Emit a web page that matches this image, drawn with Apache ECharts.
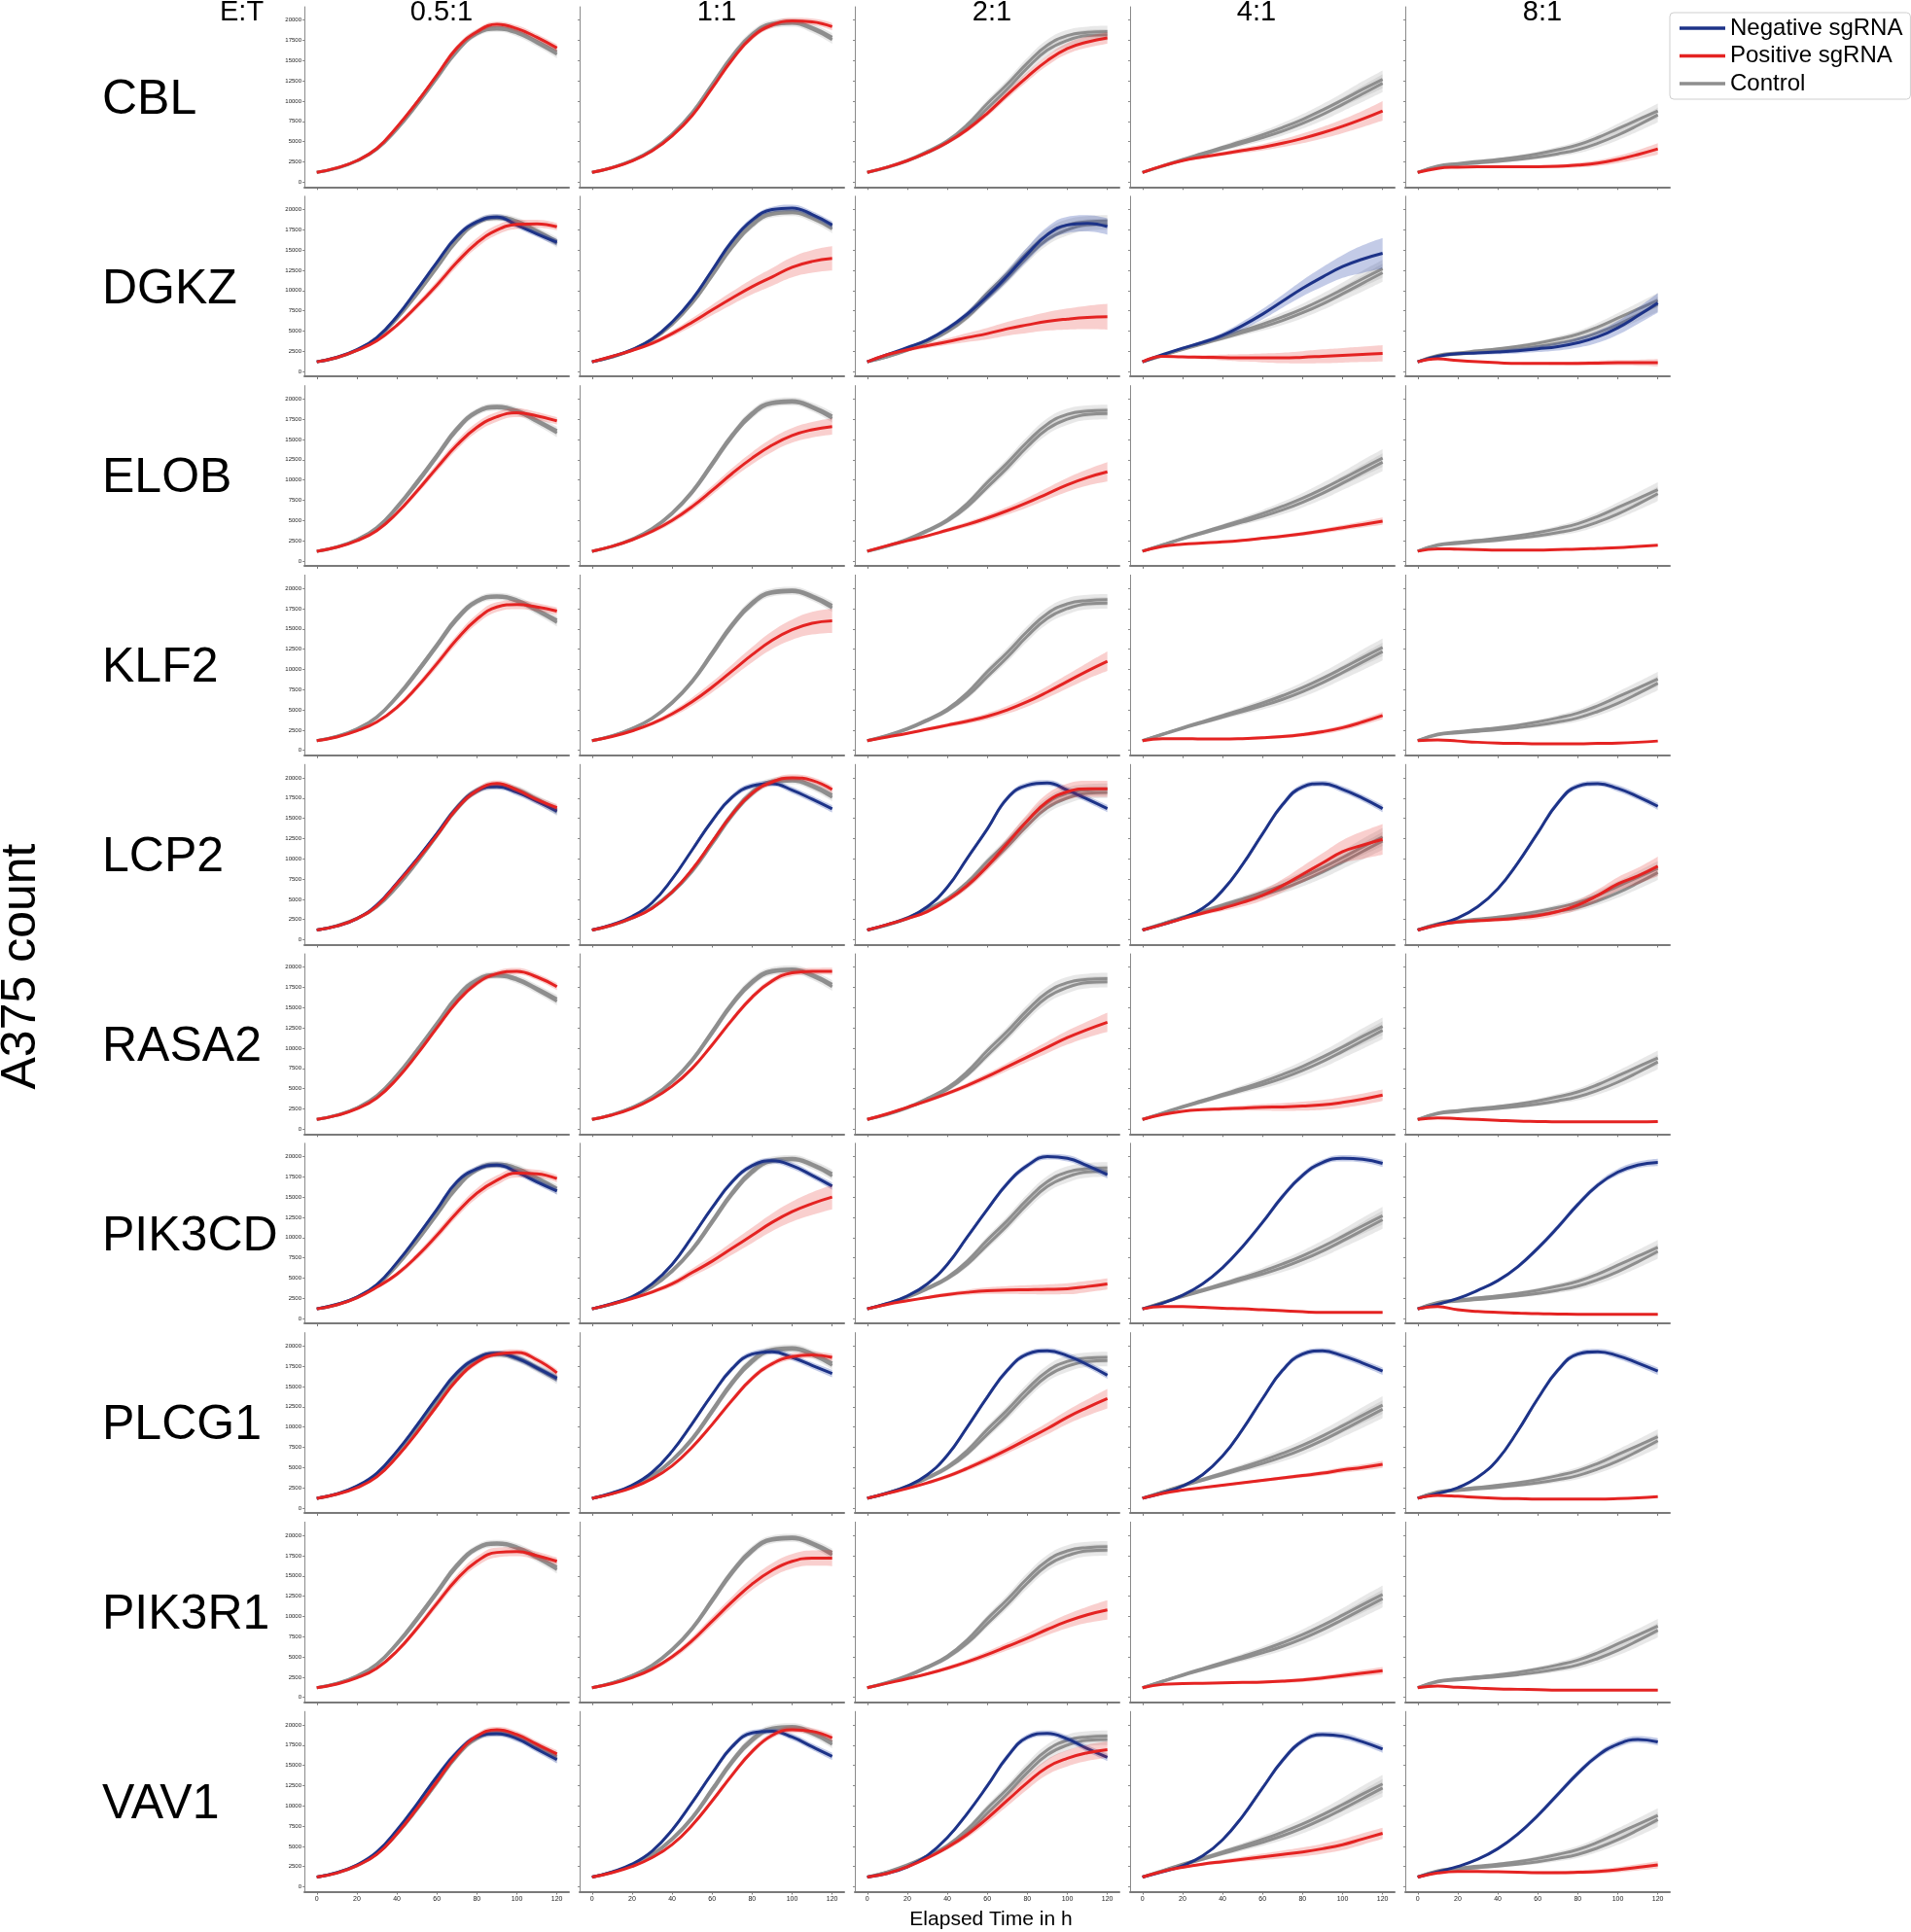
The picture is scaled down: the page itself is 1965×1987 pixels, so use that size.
<!DOCTYPE html>
<html><head><meta charset="utf-8">
<script src="https://cdn.jsdelivr.net/npm/echarts@6/dist/echarts.min.js"></script>
<style>html,body{margin:0;padding:0;background:#fff}#c{width:1965px;height:1987px}</style>
</head><body><div id="c"></div><script>
// ---------- data ----------
const hours = [0,10,20,30,40,50,60,70,80,90,100,110,120];
const ratios = ['0.5:1','1:1','2:1','4:1','8:1'];
const genes = ['CBL','DGKZ','ELOB','KLF2','LCP2','RASA2','PIK3CD','PLCG1','PIK3R1','VAV1'];
const yTicks = [0,2500,5000,7500,10000,12500,15000,17500,20000];
const xTicks = [0,20,40,60,80,100,120];

// control (two control guides, same in every row of a column)
const ctrlA = [
 [1200,1750,2650,4150,6700,9800,13100,16400,18500,19100,18600,17400,16100],
 [1200,1800,2700,4000,5950,8600,12100,15600,18300,19600,19800,19100,17900],
 [1200,1850,2700,3800,5100,7100,9700,12100,14700,16900,18100,18500,18600],
 [1200,2000,2800,3550,4300,5050,5850,6750,7750,8900,10150,11450,12700],
 [1200,2000,2300,2550,2800,3100,3500,4000,4600,5500,6600,7700,8800]
];
const ctrlB = [
 [1200,1700,2600,4050,6500,9500,12800,16100,18300,18900,18400,17200,15800],
 [1200,1780,2650,3900,5800,8400,11800,15300,18000,19400,19600,18900,17600],
 [1200,1800,2600,3650,4900,6700,9100,11500,14100,16300,17500,18100,18200],
 [1200,1950,2700,3400,4100,4800,5500,6300,7250,8350,9600,10900,12200],
 [1200,1900,2150,2350,2550,2800,3100,3500,4000,4800,5800,7000,8300]
];

// positive sgRNA (red)
const pos_CBL = [
 [1200,1760,2650,4150,6800,9850,13200,16560,18560,19480,18960,17880,16560],
 [1200,1780,2600,3850,5700,8200,11600,15100,17900,19400,19900,19800,19200],
 [1200,1850,2650,3650,4900,6500,8500,10800,13000,15000,16500,17300,17800],
 [1200,2000,2650,3100,3500,3900,4300,4800,5400,6100,6900,7800,8800],
 [1200,1700,1850,1900,1900,1900,1900,1950,2100,2350,2800,3400,4100]
];
const pos_DGKZ = [
 [1200,1720,2600,3800,5700,8080,10680,13480,15880,17480,18160,18240,17880],
 [1200,1880,2600,3480,4680,6080,7600,9080,10480,11680,12880,13600,13960],
 [1200,2080,2680,3200,3680,4200,4680,5280,5760,6200,6480,6680,6760],
 [1200,1880,1800,1760,1720,1680,1680,1680,1760,1880,2000,2120,2240],
 [1200,1560,1360,1200,1080,1000,1000,1000,1000,1040,1080,1080,1080]
];
const pos_ELOB = [
 [1200,1700,2500,3750,5900,8600,11500,14300,16500,17800,18300,17900,17300],
 [1200,1800,2600,3650,5000,6700,8700,10800,12700,14300,15500,16200,16600],
 [1200,1900,2500,3100,3800,4500,5300,6200,7200,8300,9400,10300,11000],
 [1200,1800,2050,2200,2350,2550,2800,3050,3350,3700,4100,4500,4900],
 [1200,1500,1450,1400,1350,1350,1350,1400,1450,1550,1650,1800,1950]
];
const pos_KLF2 = [
 [1200,1650,2400,3500,5300,7800,10700,13700,16200,17700,18000,17700,17200],
 [1200,1700,2400,3300,4500,6000,7800,9800,11800,13600,14900,15700,16000],
 [1200,1650,2100,2600,3100,3600,4200,5000,6000,7200,8500,9800,11000],
 [1200,1450,1450,1400,1400,1450,1550,1700,1950,2300,2800,3500,4300],
 [1200,1300,1150,1000,900,850,800,800,800,850,900,1000,1150]
];
const pos_LCP2 = [
 [1200,1700,2600,4200,6900,9800,12900,16200,18400,19300,18500,17300,16300],
 [1200,1800,2680,3880,5880,8680,12080,15480,18080,19480,20000,19680,18560],
 [1200,1880,2600,3480,4880,6680,9080,11880,14680,17080,18280,18640,18640],
 [1200,1880,2600,3280,3880,4600,5480,6680,8080,9480,10880,11680,12400],
 [1200,1800,2200,2360,2480,2680,2960,3480,4280,5480,6880,7880,9080]
];
const pos_RASA2 = [
 [1200,1700,2500,3850,6200,9200,12500,15700,18000,19200,19500,18800,17600],
 [1200,1750,2550,3700,5300,7500,10400,13500,16300,18300,19300,19500,19500],
 [1200,1900,2700,3500,4400,5400,6500,7700,8900,10100,11300,12300,13200],
 [1200,1800,2200,2400,2500,2600,2700,2750,2850,3000,3300,3700,4200],
 [1200,1400,1300,1200,1100,1000,950,900,900,900,900,900,950]
];
const pos_PIK3CD = [
 [1200,1700,2560,3880,5480,7680,10280,13080,15480,17080,17960,17880,17280],
 [1200,1800,2480,3280,4280,5680,7080,8680,10280,11880,13200,14200,15000],
 [1200,1760,2200,2600,2960,3240,3440,3520,3560,3600,3680,3960,4280],
 [1200,1480,1480,1400,1280,1200,1080,960,840,760,760,760,760],
 [1200,1480,1080,880,760,680,600,560,520,520,520,520,520]
];
const pos_PLCG1 = [
 [1200,1700,2500,3850,6300,9300,12600,15800,18000,19000,19200,18300,16700],
 [1200,1750,2500,3600,5200,7500,10300,13300,16000,17800,18700,18900,18600],
 [1200,1800,2400,3100,3900,4900,6000,7200,8500,9800,11200,12400,13500],
 [1200,1800,2200,2500,2800,3100,3400,3700,4000,4300,4700,5000,5400],
 [1200,1550,1450,1300,1200,1150,1100,1100,1100,1100,1150,1250,1400]
];
const pos_PIK3R1 = [
 [1200,1650,2400,3600,5700,8500,11600,14600,16800,17900,18000,17500,16800],
 [1200,1700,2450,3500,5000,7000,9400,11800,14000,15700,16800,17200,17200],
 [1200,1750,2300,2900,3600,4400,5300,6300,7300,8400,9400,10200,10800],
 [1200,1600,1700,1750,1800,1850,1900,2000,2150,2400,2700,3000,3300],
 [1200,1400,1250,1150,1050,1000,950,900,900,900,900,900,900]
];
const pos_VAV1 = [
 [1200,1700,2600,4000,6550,9650,13000,16300,18600,19400,18800,17600,16400],
 [1200,1750,2500,3600,5200,7600,10600,13800,16700,18700,19400,19200,18400],
 [1200,1660,2460,3540,4860,6460,8460,10660,12860,14780,15860,16540,16940],
 [1200,1900,2400,2800,3100,3400,3700,4000,4300,4700,5200,5900,6600],
 [1200,1700,1900,1900,1850,1800,1750,1750,1800,1900,2100,2400,2700]
];

// negative sgRNA (blue)
const neg_DGKZ = [
 [1200,1760,2700,4200,6800,10080,13480,16680,18480,19080,18080,17000,15960],
 [1200,1850,2700,4000,6100,8900,12500,16100,18700,20000,20200,19400,18100],
 [1200,2100,2960,3900,5300,7100,9300,11800,14500,16900,18100,18300,17900],
 [1200,2080,2880,3600,4480,5680,7080,8680,10280,11680,12960,13880,14600],
 [1200,1880,2200,2280,2400,2560,2800,3080,3560,4280,5400,6880,8480]
];
const neg_LCP2 = [
 [1200,1700,2600,4300,7000,9950,13100,16300,18400,18900,18200,17100,15900],
 [1200,1880,2880,4560,7480,11080,14680,17600,19000,19280,18480,17360,16160],
 [1200,1880,2680,4080,6480,10080,13680,17480,19080,19360,18480,17360,16200],
 [1200,1880,2680,3880,6080,9280,13080,16680,18880,19280,18560,17480,16200],
 [1200,1880,2680,4080,6280,9480,13200,16880,18960,19280,18680,17680,16480]
];
const neg_PIK3CD = [
 [1200,1750,2650,4200,6900,10080,13480,16880,18480,18960,18080,16880,15760],
 [1200,1850,2680,4280,6680,10080,13680,16880,18880,19480,18880,17680,16360],
 [1200,1880,2800,4280,6680,10080,13480,16680,18880,20000,19800,18880,17760],
 [1200,1880,2880,4280,6280,8880,11880,15080,17680,19280,19800,19680,19160],
 [1200,1760,2480,3480,4680,6400,8680,11280,14080,16480,18080,18960,19280]
];
const neg_PLCG1 = [
 [1200,1750,2700,4300,7000,10200,13600,16700,18500,19100,18500,17300,16000],
 [1200,1850,2800,4400,7000,10400,14000,17200,19000,19300,18600,17600,16600],
 [1200,1850,2700,4100,6500,10000,13700,17000,19000,19400,18800,17700,16400],
 [1200,1850,2700,4100,6400,9700,13500,17000,19000,19400,18800,17900,16900],
 [1200,1800,2500,3800,6000,9500,13500,17000,19000,19300,18800,17900,16900]
];
const neg_VAV1 = [
 [1200,1750,2700,4300,7000,10200,13600,16600,18500,18900,18300,17000,15700],
 [1200,1850,2800,4400,7000,10400,14000,17300,19000,19200,18500,17300,16100],
 [1200,1660,2460,3860,6060,9060,12460,16060,18460,18940,18260,17060,15980],
 [1200,1850,2600,3800,5800,8700,12200,15600,18000,18800,18600,17900,17000],
 [1200,1850,2500,3400,4700,6500,8800,11400,14000,16200,17600,18200,17900]
];

// band half-widths (read from the shaded areas)
const sdS1 = [50,60,80,120,180,250,300,350,350,350,400,400,450];
const sdS2 = [50,80,120,200,300,400,500,550,600,600,550,500,450];
const sdW1 = [50,80,150,250,350,450,550,650,750,850,900,950,1000];
const sdW2 = [50,80,150,250,350,500,650,800,950,1100,1250,1400,1500];
const sdG3 = [50,80,120,200,300,400,550,700,850,950,1000,1000,1000];
const sdR3 = [50,100,200,300,400,550,700,850,1000,1150,1300,1450,1600];
const sdA1 = [50,80,120,180,250,320,400,480,600,720,850,1000,1200];
const sdA2 = [50,80,150,250,350,500,650,800,1000,1200,1400,1700,1900];
const sdM  = [50,80,120,180,250,320,400,480,560,620,680,700,700];
const sdL  = [50,60,80,100,120,150,180,210,250,290,330,380,450];
const sdT  = [50,60,60,60,60,60,60,60,60,60,70,80,90];
const sdE  = [50,60,80,100,120,150,180,220,280,350,450,550,700];
const sdCtrl = [
 [50,60,80,120,180,250,300,350,350,350,400,450,500],
 [50,60,80,120,180,250,300,350,400,400,400,450,500],
 [50,80,120,180,250,350,450,550,650,700,700,700,700],
 [50,80,120,180,250,350,450,550,650,750,850,1000,1100],
 [50,80,100,130,170,220,280,350,430,520,620,750,900]
];
const posSd_CBL = [sdS1,sdS1,sdM,sdA1,sdE];
const posSd_DGKZ = [sdS2,sdW2,sdR3,sdW1,sdL];
const posSd_ELOB = [sdS2,sdW1,sdA1,sdL,sdT];
const posSd_KLF2 = [sdS2,sdW2,sdA1,sdL,sdT];
const posSd_LCP2 = [sdS1,sdS1,sdG3,sdA2,sdA1];
const posSd_RASA2 = [sdS1,sdS1,sdA1,sdM,sdT];
const posSd_PIK3CD = [sdS2,sdW2,sdM,sdT,sdT];
const posSd_PLCG1 = [sdS1,sdS1,sdA1,sdL,sdT];
const posSd_PIK3R1 = [sdS2,sdW1,sdA1,sdL,sdT];
const posSd_VAV1 = [sdS1,sdS1,sdG3,sdM,sdL];
const negSd_DGKZ = [sdS1,sdS1,sdG3,sdA2,sdA1];
const negSd_other = [sdS1,sdS1,sdS1,sdS1,sdS1];

// ---------- build ----------
const posBy = {CBL:pos_CBL,DGKZ:pos_DGKZ,ELOB:pos_ELOB,KLF2:pos_KLF2,LCP2:pos_LCP2,RASA2:pos_RASA2,PIK3CD:pos_PIK3CD,PLCG1:pos_PLCG1,PIK3R1:pos_PIK3R1,VAV1:pos_VAV1};
const posSdBy = {CBL:posSd_CBL,DGKZ:posSd_DGKZ,ELOB:posSd_ELOB,KLF2:posSd_KLF2,LCP2:posSd_LCP2,RASA2:posSd_RASA2,PIK3CD:posSd_PIK3CD,PLCG1:posSd_PLCG1,PIK3R1:posSd_PIK3R1,VAV1:posSd_VAV1};
const negBy = {DGKZ:neg_DGKZ,LCP2:neg_LCP2,PIK3CD:neg_PIK3CD,PLCG1:neg_PLCG1,VAV1:neg_VAV1};
const negSdBy = {DGKZ:negSd_DGKZ,LCP2:negSd_other,PIK3CD:negSd_other,PLCG1:negSd_other,VAV1:negSd_other};

const FONT = '"Liberation Sans", Arial, Helvetica, sans-serif';
const BLUE = '#1d3388', RED = '#e42322', GRAY = '#8e8e8e';
const BLUE_B = 'rgba(40,70,170,0.28)', RED_B = 'rgba(228,35,34,0.22)', GRAY_B = 'rgba(150,150,150,0.22)';
const GL = 313, GW = 272, GT = 7, GH = 185.3, DX = 283, DY = 194.8;
const SM = 0.45;
const titleShift = [5, 5, 5, -6, 5];

const grids = [], xAxes = [], yAxes = [], series = [];
let stackN = 0;
function addCurve(name, color, band, mean, sd, idx, z) {
  const st = 'st' + (stackN++);
  // band: value first so that the stacked dimension is y (stacked by index)
  series.push({type:'line', name:'_band', xAxisIndex:idx, yAxisIndex:idx, stack:st,
    encode:{x:1, y:0},
    data: hours.map((t,k)=>[mean[k]-sd[k], t]), symbol:'none', smooth:SM, silent:true,
    lineStyle:{opacity:0}, z:z, animation:false});
  series.push({type:'line', name:'_band', xAxisIndex:idx, yAxisIndex:idx, stack:st,
    encode:{x:1, y:0},
    data: hours.map((t,k)=>[2*sd[k], t]), symbol:'none', smooth:SM, silent:true,
    lineStyle:{opacity:0}, areaStyle:{color:band, opacity:1}, z:z, animation:false});
  series.push({type:'line', name:name, xAxisIndex:idx, yAxisIndex:idx,
    data: hours.map((t,k)=>[t, mean[k]]), symbol:'none', smooth:SM,
    lineStyle:{color:color, width:3}, itemStyle:{color:color}, z:z+1, animation:false});
}

genes.forEach((g, r) => {
  ratios.forEach((ra, c) => {
    const i = grids.length;
    grids.push({left: GL + DX*c, top: GT + DY*r, width: GW, height: GH, containLabel:false});
    xAxes.push({gridIndex:i, type:'value', min:-6.2, max:126,
      axisLine:{show:true, onZero:false, lineStyle:{color:'#7a7a7a', width:2}},
      axisTick:{show:true, customValues:xTicks, length:3, lineStyle:{color:'#7a7a7a'}},
      axisLabel:{show: r===genes.length-1, customValues:xTicks, fontSize:7, margin:4, color:'#222', fontFamily:FONT,
        formatter: v => String(v)},
      splitLine:{show:false}});
    yAxes.push({gridIndex:i, type:'value', min:-600, max:21650,
      axisLine:{show:true, onZero:false, lineStyle:{color:'#8a8a8a', width:1}},
      axisTick:{show:true, customValues:yTicks, length:2, lineStyle:{color:'#8a8a8a'}},
      axisLabel:{show: c===0, customValues:yTicks, fontSize:6, margin:3, color:'#222', fontFamily:FONT,
        formatter: v => String(v)},
      splitLine:{show:false}});
    addCurve('Control', GRAY, GRAY_B, ctrlA[c], sdCtrl[c], i, 1);
    addCurve('Control', GRAY, GRAY_B, ctrlB[c], sdCtrl[c], i, 1);
    if (negBy[g]) addCurve('Negative sgRNA', BLUE, BLUE_B, negBy[g][c], negSdBy[g][c], i, 3);
    addCurve('Positive sgRNA', RED, RED_B, posBy[g][c], posSdBy[g][c], i, 5);
  });
});

const graphic = [];
function txt(s, x, y, size, align, valign, rot) {
  graphic.push({type:'text', x:x, y:y, rotation:rot||0, silent:true,
    style:{text:s, fontSize:size, fontFamily:FONT, fill:'#000',
      textAlign:align, textVerticalAlign:valign, align:align, verticalAlign:valign}});
}
genes.forEach((g, r) => txt(g, 105, 103 + DY*r, 50, 'left', 'middle'));
ratios.forEach((ra, c) => txt(ra, GL + GW/2 + titleShift[c] + DX*c, 13, 29, 'center', 'middle'));
txt('E:T', 226, 13, 29, 'left', 'middle');
txt('A375 count', 22, 994, 50, 'center', 'middle', Math.PI/2);
txt('Elapsed Time in h', 1019, 1974, 21, 'center', 'middle');

const chart = echarts.init(document.getElementById('c'), null, {renderer:'canvas'});
chart.setOption({
  animation:false,
  backgroundColor:'#fff',
  grid: grids, xAxis: xAxes, yAxis: yAxes, series: series,
  legend: {data:['Negative sgRNA','Positive sgRNA','Control'], orient:'vertical',
    left:1717, top:13, padding:[4,8,4,10], icon:'rect', itemWidth:47, itemHeight:3.5, itemGap:4.5,
    selectedMode:false, borderColor:'#cfcfcf', borderWidth:1, borderRadius:4,
    backgroundColor:'#fff',
    textStyle:{fontSize:24, fontFamily:FONT, color:'#000'}},
  graphic: graphic
});
</script></body></html>
